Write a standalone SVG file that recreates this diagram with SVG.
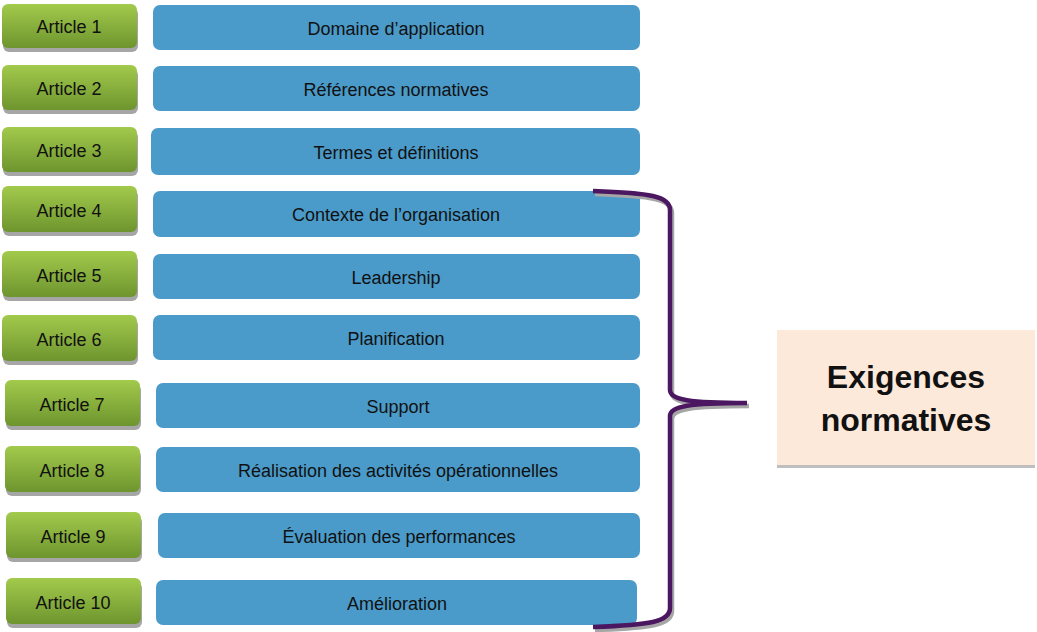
<svg xmlns="http://www.w3.org/2000/svg" width="1037" height="632" viewBox="0 0 1037 632">
<defs>
<linearGradient id="g" x1="0" y1="0" x2="0" y2="1"><stop offset="0" stop-color="#a2ca4c"/><stop offset="1" stop-color="#6e952e"/></linearGradient>
<style>
.a{fill:url(#g)}.s{fill:#a6a6a6}.b{fill:#4a9bc9}
text{font-family:"Liberation Sans","Open Sans",sans-serif;font-size:18px;fill:#111;text-anchor:middle}
.t{font-size:32px;font-weight:bold}
.br{fill:none;stroke-width:4.5}
</style>
</defs>
<rect width="1037" height="632" fill="#fff"/>
<g id="a1"><rect class="s" x="3" y="8" width="135" height="44" rx="6"/><rect class="a" x="2" y="4" width="135" height="44" rx="6"/><text x="69" y="33">Article 1</text></g>
<g id="a2"><rect class="s" x="3" y="69" width="135" height="45" rx="6"/><rect class="a" x="2" y="65" width="135" height="45" rx="6"/><text x="69" y="95">Article 2</text></g>
<g id="a3"><rect class="s" x="3" y="131" width="135" height="45" rx="6"/><rect class="a" x="2" y="127" width="135" height="45" rx="6"/><text x="69" y="157">Article 3</text></g>
<g id="a4"><rect class="s" x="3" y="190" width="135" height="46" rx="6"/><rect class="a" x="2" y="186" width="135" height="46" rx="6"/><text x="69" y="217">Article 4</text></g>
<g id="a5"><rect class="s" x="3" y="255" width="135" height="46" rx="6"/><rect class="a" x="2" y="251" width="135" height="46" rx="6"/><text x="69" y="282">Article 5</text></g>
<g id="a6"><rect class="s" x="3" y="319" width="135" height="46" rx="6"/><rect class="a" x="2" y="315" width="135" height="46" rx="6"/><text x="69" y="346">Article 6</text></g>
<g id="a7"><rect class="s" x="6" y="384" width="135" height="46" rx="6"/><rect class="a" x="5" y="380" width="135" height="46" rx="6"/><text x="72" y="411">Article 7</text></g>
<g id="a8"><rect class="s" x="6" y="450" width="135" height="46" rx="6"/><rect class="a" x="5" y="446" width="135" height="46" rx="6"/><text x="72" y="477">Article 8</text></g>
<g id="a9"><rect class="s" x="7" y="516" width="135" height="46" rx="6"/><rect class="a" x="6" y="512" width="135" height="46" rx="6"/><text x="73" y="543">Article 9</text></g>
<g id="a10"><rect class="s" x="7" y="582" width="135" height="46" rx="6"/><rect class="a" x="6" y="578" width="135" height="46" rx="6"/><text x="73" y="609">Article 10</text></g>
<g id="b1"><rect class="b" x="153" y="5" width="487" height="45" rx="7"/><text x="396" y="35">Domaine d’application</text></g>
<g id="b2"><rect class="b" x="153" y="66" width="487" height="45" rx="7"/><text x="396" y="96">Références normatives</text></g>
<g id="b3"><rect class="b" x="151" y="128" width="489" height="47" rx="7"/><text x="396" y="159">Termes et définitions</text></g>
<g id="b4"><rect class="b" x="153" y="191" width="487" height="46" rx="7"/><text x="396" y="221">Contexte de l’organisation</text></g>
<g id="b5"><rect class="b" x="153" y="254" width="487" height="45" rx="7"/><text x="396" y="284">Leadership</text></g>
<g id="b6"><rect class="b" x="153" y="315" width="487" height="45" rx="7"/><text x="396" y="345">Planification</text></g>
<g id="b7"><rect class="b" x="156" y="383" width="484" height="45" rx="7"/><text x="398" y="413">Support</text></g>
<g id="b8"><rect class="b" x="156" y="447" width="484" height="45" rx="7"/><text x="398" y="477">Réalisation des activités opérationnelles</text></g>
<g id="b9"><rect class="b" x="158" y="513" width="482" height="45" rx="7"/><text x="399" y="543">Évaluation des performances</text></g>
<g id="b10"><rect class="b" x="156" y="580" width="481" height="45" rx="7"/><text x="397" y="610">Amélioration</text></g>
<g id="connectors">
<path class="br" stroke="#a6a6a6" transform="translate(2,3)" d="M593,191 C650,193 670,196 670,210 L670,390 C670,400 690,403 747,403 C690,403 670,406 670,416 L670,608 C670,622 650,625 593,627"/>
<path class="br" stroke="#4b1760" d="M593,191 C650,193 670,196 670,210 L670,390 C670,400 690,403 747,403 C690,403 670,406 670,416 L670,608 C670,622 650,625 593,627"/>
</g>
<g id="ex"><rect x="777" y="333" width="258" height="135" fill="#bfbfbf"/><rect x="777" y="330" width="258" height="135" fill="#fde9d9"/><text class="t" x="906" y="388">Exigences</text><text class="t" x="906" y="431">normatives</text></g>
</svg>
